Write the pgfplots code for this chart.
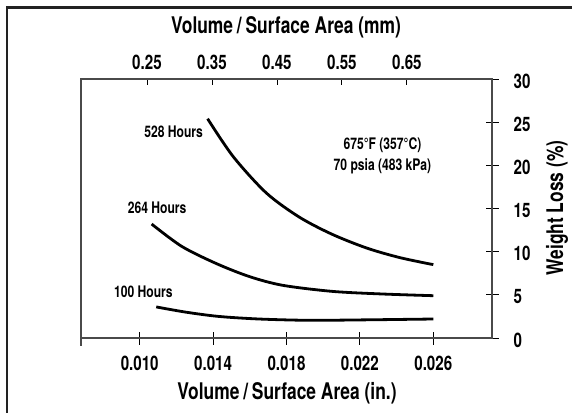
\documentclass[border=0pt]{standalone}
\usepackage{fontspec}
\setmainfont{TeX Gyre Heros}[FakeStretch=0.76]
\usepackage{pgfplots}
\pgfplotsset{compat=1.18}

\definecolor{axisgray}{HTML}{4A4A4A}
\definecolor{framegray}{HTML}{222222}

\pgfplotsset{
  common/.style={
    at={(81bp,-338bp)}, anchor=south west,
    scale only axis, width=411bp, height=259bp,
    ymin=0, ymax=30,
    axis line style={axisgray, line width=1.2bp},
    tick style={black, line width=0.8bp},
    tick label style={font=\bfseries\fontsize{20}{20}\selectfont, inner sep=0pt},
    /pgf/number format/assume math mode=true,
    scaled x ticks=false,
    clip=false,
  }
}

\begin{document}
\begin{tikzpicture}
\path[use as bounding box] (0bp,0bp) rectangle (572bp,-413bp);
\draw[line width=2.6bp, framegray] (7bp,-413bp) -- (7bp,-7.5bp) -- (572bp,-7.5bp);

% main axis: bottom in inches, right weight loss
\begin{axis}[common,
  xmin=0.0068, xmax=0.0292,
  xtick={0.010,0.014,0.018,0.022,0.026},
  xticklabels={0.010,0.014,0.018,0.022,0.026},
  ytick={0,5,10,15,20,25,30},
  xtick pos=bottom, ytick pos=right,
  tick align=center,
  major tick length=13bp,
  xticklabel style={anchor=center, yshift=-19bp},
  yticklabel style={anchor=west, xshift=15bp, yshift=-2bp},
]
\addplot[black, line width=2.8bp, smooth] coordinates {
  (0.0137,25.4) (0.0151,21.0) (0.0169,16.8) (0.0187,14.0)
  (0.0205,12.0) (0.0224,10.4) (0.0242,9.3) (0.0260,8.5)
};
\addplot[black, line width=2.8bp, smooth] coordinates {
  (0.01065,13.2) (0.0123,10.6) (0.0142,8.6) (0.0160,7.1)
  (0.0178,6.1) (0.0205,5.4) (0.0232,5.1) (0.0260,4.9)
};
\addplot[black, line width=2.8bp, smooth] coordinates {
  (0.0109,3.6) (0.0125,3.0) (0.0143,2.5) (0.0165,2.2)
  (0.0192,2.05) (0.0222,2.1) (0.0260,2.2)
};
\draw[axisgray, line width=1.2bp] (rel axis cs:0,0) -- ([yshift=-8bp]rel axis cs:0,0);
\begin{scope}[font=\bfseries\fontsize{16}{22}\selectfont]
\node at (axis cs:0.01185,23.9) {528 Hours};
\node at (axis cs:0.01095,15.1) {264 Hours};
\node at (axis cs:0.0102,5.3) {100 Hours};
\node[align=center] at (axis cs:0.02323,21.1) {675°F (357°C)\\70 psia (483 kPa)};
\end{scope}
\end{axis}

% top axis in millimetres
\begin{axis}[common,
  xmin=0.1485, xmax=0.781,
  axis x line*=top, axis y line=none,
  xtick={0.25,0.35,0.45,0.55,0.65},
  xticklabels={0.25,0.35,0.45,0.55,0.65},
  ytick=\empty,
  tick align=inside,
  major tick length=6bp,
  xticklabel style={anchor=center, yshift=17bp},
]
\end{axis}

\begin{scope}[font=\bfseries\fontsize{23}{23}\selectfont]
\node at (286bp,-27bp) {Volume\,/\,Surface Area (mm)};
\node at (287bp,-393bp) {Volume\,/\,Surface Area (in.)};
\node[rotate=90] at (557bp,-208bp) {Weight Loss (\%)};
\end{scope}
\end{tikzpicture}
\end{document}
